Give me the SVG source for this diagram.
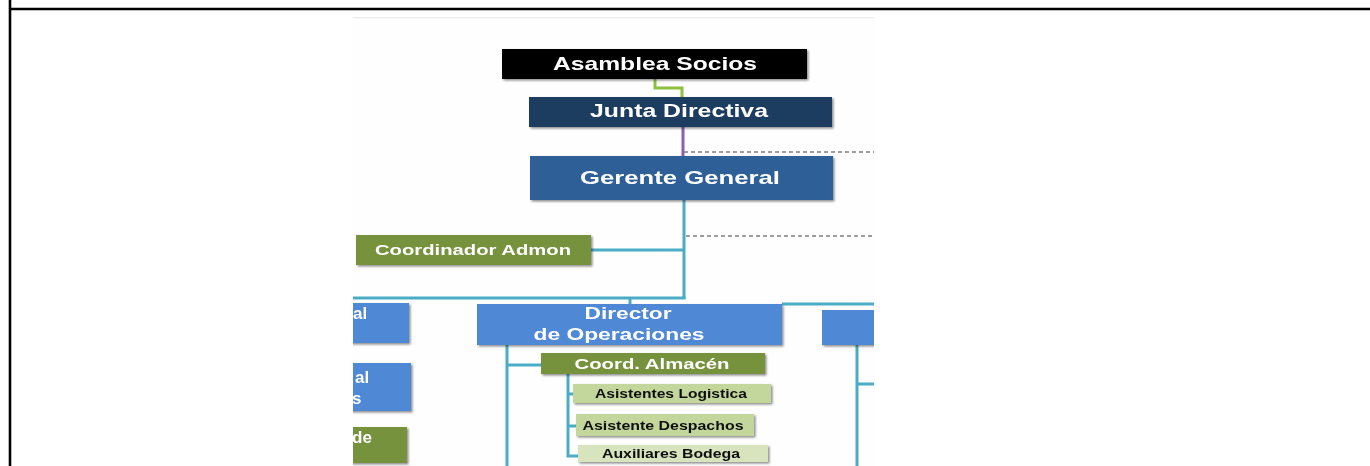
<svg xmlns="http://www.w3.org/2000/svg" width="1370" height="466" viewBox="0 0 1370 466">
  <defs>
    <clipPath id="chartClip">
      <rect x="353" y="17" width="521" height="449"/>
    </clipPath>
    <filter id="shadow" x="-10%" y="-20%" width="130%" height="160%">
      <feDropShadow dx="1.5" dy="1.5" stdDeviation="1.2" flood-color="#000" flood-opacity="0.45"/>
    </filter>
    <filter id="soft">
      <feGaussianBlur stdDeviation="0.35"/>
    </filter>
  </defs>
  <style>
    .frame { stroke: #000; stroke-width: 2.6; fill: none; }
    .teal { stroke: #4bacc6; stroke-width: 3; fill: none; }
    .dash { stroke: #7f7f7f; stroke-width: 1.4; stroke-dasharray: 4 3; fill: none; }
    .box { filter: url(#shadow); }
    .lbl { font-family: "Liberation Sans", "DejaVu Sans", sans-serif; font-weight: bold; text-anchor: middle; fill: #fff; }
    .dark { fill: #111; }
    .black { fill: #050505; }
    .navy { fill: #1f3d5e; }
    .mid { fill: #2f5f96; }
    .blue { fill: #4f88d4; }
    .olive { fill: #76923c; }
    .pale { fill: #c3d69b; }
    .paler { fill: #d7e4bd; }
  </style>

  <!-- page frame -->
  <line class="frame" x1="10" y1="0" x2="10" y2="466"/>
  <line class="frame" x1="10" y1="9" x2="1370" y2="9"/>

  <g clip-path="url(#chartClip)" filter="url(#soft)">
    <rect x="353" y="17" width="521" height="449" fill="#fefefe"/>
    <line x1="353" y1="17.5" x2="874" y2="17.5" stroke="#ececec" stroke-width="1.5"/>

    <!-- connectors -->
    <g id="connectors">
      <polyline points="655,79 655,88 682,88 682,97" fill="none" stroke="#8dbf3f" stroke-width="3"/>
      <line x1="683" y1="127" x2="683" y2="156" stroke="#8e5fb0" stroke-width="3"/>
      <line class="dash" x1="684" y1="152" x2="874" y2="152"/>
      <line class="dash" x1="686" y1="236" x2="874" y2="236"/>
      <line class="teal" x1="684" y1="200" x2="684" y2="299"/>
      <line class="teal" x1="591" y1="250" x2="684" y2="250"/>
      <line class="teal" x1="353" y1="298" x2="685.5" y2="298"/>
      <line class="teal" x1="630" y1="298" x2="630" y2="305"/>
      <line class="teal" x1="782" y1="304" x2="874" y2="304"/>
      <line class="teal" x1="507" y1="345" x2="507" y2="466"/>
      <line class="teal" x1="507" y1="365" x2="541" y2="365"/>
      <line class="teal" x1="857" y1="345" x2="857" y2="466"/>
      <line class="teal" x1="857" y1="384" x2="874" y2="384"/>
      <polyline class="teal" points="568,373 568,456 578,456"/>
      <line class="teal" x1="568" y1="394" x2="573" y2="394"/>
      <line class="teal" x1="568" y1="426" x2="576" y2="426"/>
    </g>

    <g id="asamblea">
      <rect class="box black" x="502" y="49" width="305" height="30"/>
      <text class="lbl" x="655" y="70" font-size="19" textLength="204" lengthAdjust="spacingAndGlyphs">Asamblea Socios</text>
    </g>

    <g id="junta">
      <rect class="box navy" x="529" y="97" width="303" height="30"/>
      <text class="lbl" x="679" y="117" font-size="18" textLength="178" lengthAdjust="spacingAndGlyphs">Junta Directiva</text>
    </g>

    <g id="gerente">
      <rect class="box mid" x="530" y="156" width="303" height="44"/>
      <text class="lbl" x="680" y="184" font-size="19" textLength="200" lengthAdjust="spacingAndGlyphs">Gerente General</text>
    </g>

    <g id="coord-admon">
      <rect class="box olive" x="356" y="235" width="235" height="30"/>
      <text class="lbl" x="473" y="255" font-size="15" textLength="196" lengthAdjust="spacingAndGlyphs">Coordinador Admon</text>
    </g>

    <g id="director-operaciones">
      <rect class="box blue" x="477" y="304" width="305" height="41"/>
      <text class="lbl" x="628" y="319" font-size="16" textLength="87" lengthAdjust="spacingAndGlyphs">Director</text>
      <text class="lbl" x="619" y="340" font-size="16" textLength="171" lengthAdjust="spacingAndGlyphs">de Operaciones</text>
    </g>

    <g id="director-right">
      <rect class="box blue" x="822" y="310" width="60" height="35"/>
    </g>

    <g id="left-1">
      <rect class="box blue" x="340" y="303" width="69" height="40"/>
      <text class="lbl" x="353" y="319" font-size="17" style="text-anchor:start">al</text>
    </g>
    <g id="left-2">
      <rect class="box blue" x="340" y="363" width="71" height="48"/>
      <text class="lbl" x="355" y="383" font-size="17" style="text-anchor:start">al</text>
      <text class="lbl" x="352" y="404" font-size="17" style="text-anchor:start">s</text>
    </g>
    <g id="left-3">
      <rect class="box olive" x="340" y="427" width="67" height="36"/>
      <text class="lbl" x="352" y="443" font-size="17" style="text-anchor:start">de</text>
    </g>

    <g id="coord-almacen">
      <rect class="box olive" x="541" y="353" width="224" height="21"/>
      <text class="lbl" x="652" y="369" font-size="15" textLength="155" lengthAdjust="spacingAndGlyphs">Coord. Almacén</text>
    </g>

    <g id="asistentes-logistica">
      <rect class="box pale" x="573" y="384" width="198" height="19"/>
      <text class="lbl dark" x="671" y="398" font-size="12.5" textLength="152" lengthAdjust="spacingAndGlyphs">Asistentes Logistica</text>
    </g>

    <g id="asistente-despachos">
      <rect class="box pale" x="576" y="414" width="178" height="22"/>
      <text class="lbl dark" x="663" y="430" font-size="12.5" textLength="161" lengthAdjust="spacingAndGlyphs">Asistente Despachos</text>
    </g>

    <g id="auxiliares-bodega">
      <rect class="box paler" x="578" y="445" width="190" height="17"/>
      <text class="lbl dark" x="671" y="458" font-size="12.5" textLength="138" lengthAdjust="spacingAndGlyphs">Auxiliares Bodega</text>
    </g>
  </g>
</svg>
